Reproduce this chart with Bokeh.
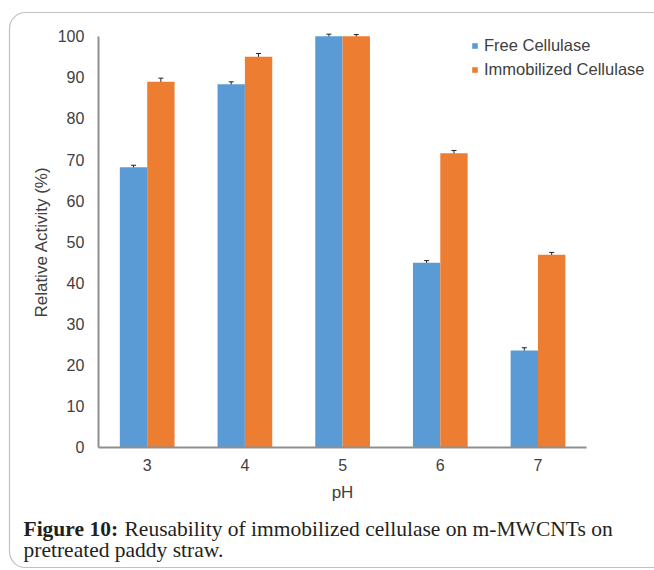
from bokeh.plotting import figure
from bokeh.models import (ColumnDataSource, Range1d, FixedTicker, Whisker, TeeHead,
                          Legend, LegendItem, Label, BoxAnnotation)
from bokeh.transform import dodge
from bokeh.embed import file_html
from bokeh.resources import INLINE

# pH values tested and relative activity (%) of each enzyme form
ph = [3, 4, 5, 6, 7]
free_activity = [68.1, 88.3, 100.0, 44.9, 23.5]
immobilized_activity = [88.9, 95.0, 100.0, 71.5, 46.8]
free_sd = [0.5, 0.6, 0.5, 0.5, 0.7]
immobilized_sd = [0.9, 0.8, 0.4, 0.7, 0.6]
y_ticks = [0, 10, 20, 30, 40, 50, 60, 70, 80, 90, 100]

series_names = ["Free Cellulase", "Immobilized Cellulase"]
caption_bold = "Figure 10:"
caption_line1 = "Reusability of immobilized cellulase on m-MWCNTs on"
caption_line2 = "pretreated paddy straw."

BLUE = "#5B9BD5"
ORANGE = "#ED7D31"
TEXT = "#404040"
AXIS = "#8F8F8F"
SANS = "Liberation Sans"
SERIF = "Liberation Serif"

W, H = 654, 570
bar_w = 0.28

src = ColumnDataSource(dict(
    ph=ph,
    free=free_activity,
    immob=immobilized_activity,
    free_lo=[v - e for v, e in zip(free_activity, free_sd)],
    free_hi=[v + e for v, e in zip(free_activity, free_sd)],
    immob_lo=[v - e for v, e in zip(immobilized_activity, immobilized_sd)],
    immob_hi=[v + e for v, e in zip(immobilized_activity, immobilized_sd)],
))

# the data frame fills the whole canvas; axes are pinned inside it
x_lo, x_hi = ph[0] - 0.5, ph[-1] + 0.5
p = figure(width=W, height=H,
           x_range=Range1d(1.4985, 8.1925),
           y_range=Range1d(-30.0, 108.69),
           output_backend="svg", toolbar_location=None,
           min_border=0, min_border_left=0, min_border_right=0,
           min_border_top=0, min_border_bottom=0)

p.outline_line_color = None
p.xgrid.grid_line_color = None
p.ygrid.grid_line_color = None
p.background_fill_color = "white"
p.border_fill_color = "white"

r_free = p.vbar(x=dodge("ph", -bar_w / 2), top="free", width=bar_w,
                source=src, fill_color=BLUE, line_color=None)
r_immob = p.vbar(x=dodge("ph", bar_w / 2), top="immob", width=bar_w,
                 source=src, fill_color=ORANGE, line_color=None)

for off, lo, hi in [(-bar_w / 2, "free_lo", "free_hi"), (bar_w / 2, "immob_lo", "immob_hi")]:
    p.add_layout(Whisker(base=dodge("ph", off), lower=lo, upper=hi, source=src,
                         line_color="#222222", line_width=1,
                         upper_head=TeeHead(size=5, line_color="#222222", line_width=1),
                         lower_head=TeeHead(size=5, line_color="#222222", line_width=1)))

# axes
p.xaxis.fixed_location = 0
p.xaxis.bounds = (x_lo, x_hi)
p.xaxis.ticker = FixedTicker(ticks=ph)
p.yaxis.fixed_location = x_lo
p.yaxis.bounds = (0, 100)
p.yaxis.ticker = FixedTicker(ticks=y_ticks)
for ax in (p.xaxis, p.yaxis):
    ax.axis_line_color = AXIS
    ax.axis_line_width = 2
    ax.major_tick_line_color = None
    ax.minor_tick_line_color = None
    ax.major_tick_out = 0
    ax.major_tick_in = 0
    ax.major_label_text_font = SANS
    ax.major_label_text_font_size = "16px"
    ax.major_label_text_color = TEXT
    ax.axis_label_text_font = SANS
    ax.axis_label_text_font_style = "normal"
    ax.axis_label_text_color = TEXT
p.yaxis.major_label_standoff = 14
p.xaxis.major_label_standoff = 12
p.yaxis.axis_label = "Relative Activity (%)"
p.yaxis.axis_label_text_font_size = "17px"
p.yaxis.axis_label_standoff = 4
p.xaxis.axis_label = "pH"
p.xaxis.axis_label_text_font_size = "17px"
p.xaxis.axis_label_standoff = 8

legend = Legend(items=[LegendItem(label=series_names[0], renderers=[r_free]),
                       LegendItem(label=series_names[1], renderers=[r_immob])],
                location=(471, 491), orientation="vertical",
                glyph_width=7, glyph_height=7, label_standoff=6,
                label_height=20, spacing=4, padding=0, margin=0,
                border_line_color=None, background_fill_alpha=0,
                label_text_font=SANS, label_text_font_size="16.5px",
                label_text_color=TEXT)
p.add_layout(legend)

# caption below the chart (screen y counts up from the bottom edge)
cap = dict(x_units="screen", y_units="screen", text_font=SERIF, text_font_size="21.5px",
           text_color="#231F20", text_baseline="alphabetic")
p.add_layout(Label(x=23, y=H - 528, text=caption_bold, text_font_style="bold", **cap))
p.add_layout(Label(x=124, y=H - 528, text=caption_line1, **cap))
p.add_layout(Label(x=23, y=H - 549, text=caption_line2, **cap))

# rounded frame around chart and caption
p.add_layout(BoxAnnotation(left=9, right=W + 40, top=H - 12, bottom=H - 567,
                           left_units="screen", right_units="screen",
                           top_units="screen", bottom_units="screen",
                           fill_alpha=0, line_color="#333333", line_width=1.2,
                           border_radius=16))

open("out.html", "w").write(file_html(p, INLINE))
